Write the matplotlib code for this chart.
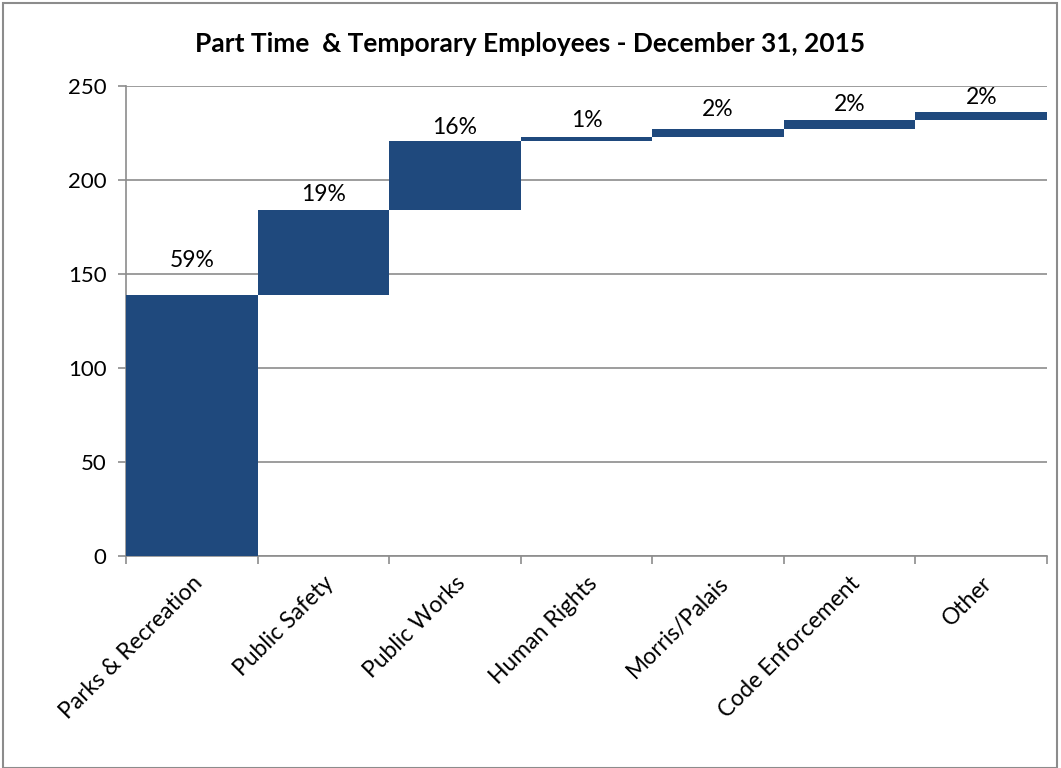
import numpy as np
import matplotlib.pyplot as plt
from matplotlib.patches import Rectangle

# Departments and head counts
departments = ['Parks & Recreation', 'Public Safety', 'Public Works', 'Human Rights',
               'Morris/Palais', 'Code Enforcement', 'Other']
employees = [139, 45, 37, 2, 4, 5, 4]
pct_labels = ['59%', '19%', '16%', '1%', '2%', '2%', '2%']

plt.rcParams['font.family'] = ['Lato', 'DejaVu Sans']

fig = plt.figure(figsize=(10.61, 7.68), dpi=100)
ax = fig.add_axes([126 / 1061, 1 - 556 / 768, 921 / 1061, 470 / 768])

vals = np.array(employees)
tops = np.cumsum(vals)
bases = tops - vals
x = np.arange(len(departments))

ax.bar(x, vals, bottom=bases, width=1.0, color='#1f497d', zorder=3)

# percentage labels sit above each step
pads = [24, 5, 3, 6, 9, 5, 4]
for xi, top, lab, pad in zip(x, tops, pct_labels, pads):
    ax.annotate(lab, (xi, top), xytext=(0, pad), textcoords='offset pixels',
                ha='center', va='bottom', fontsize=16.5, color='black')

ax.set_xlim(-0.5, len(departments) - 0.5)
ax.set_ylim(0, 250)
ax.set_yticks(range(0, 251, 50))
ax.yaxis.grid(True, color='#8c8c8c', linewidth=1.2, zorder=0)
ax.set_axisbelow(True)

ax.set_xticks(x)
ax.set_xticklabels(departments, rotation=45, ha='right', rotation_mode='anchor', fontsize=16.5)
ax.tick_params(axis='x', length=0, pad=12)
ax.set_xticks(np.arange(len(departments) + 1) - 0.5, minor=True)
ax.tick_params(axis='x', which='minor', length=6, color='#8c8c8c', width=1.2)
ax.tick_params(axis='y', labelsize=16, length=6, color='#8c8c8c', width=1.2, pad=8)

for side in ['top', 'right']:
    ax.spines[side].set_visible(False)
for side in ['left', 'bottom']:
    ax.spines[side].set_color('#8c8c8c')
    ax.spines[side].set_linewidth(1.2)

fig.text(0.5, 1 - 44 / 768, 'Part Time  & Temporary Employees - December 31, 2015',
         ha='center', va='center', fontsize=19, fontweight='bold')

fig.patches.append(Rectangle((3 / 1061, 0), 1054 / 1061, 1 - 3 / 768, transform=fig.transFigure,
                             fill=False, edgecolor='#8c8c8c', linewidth=1.5))

fig.savefig('out.png', dpi=100)
